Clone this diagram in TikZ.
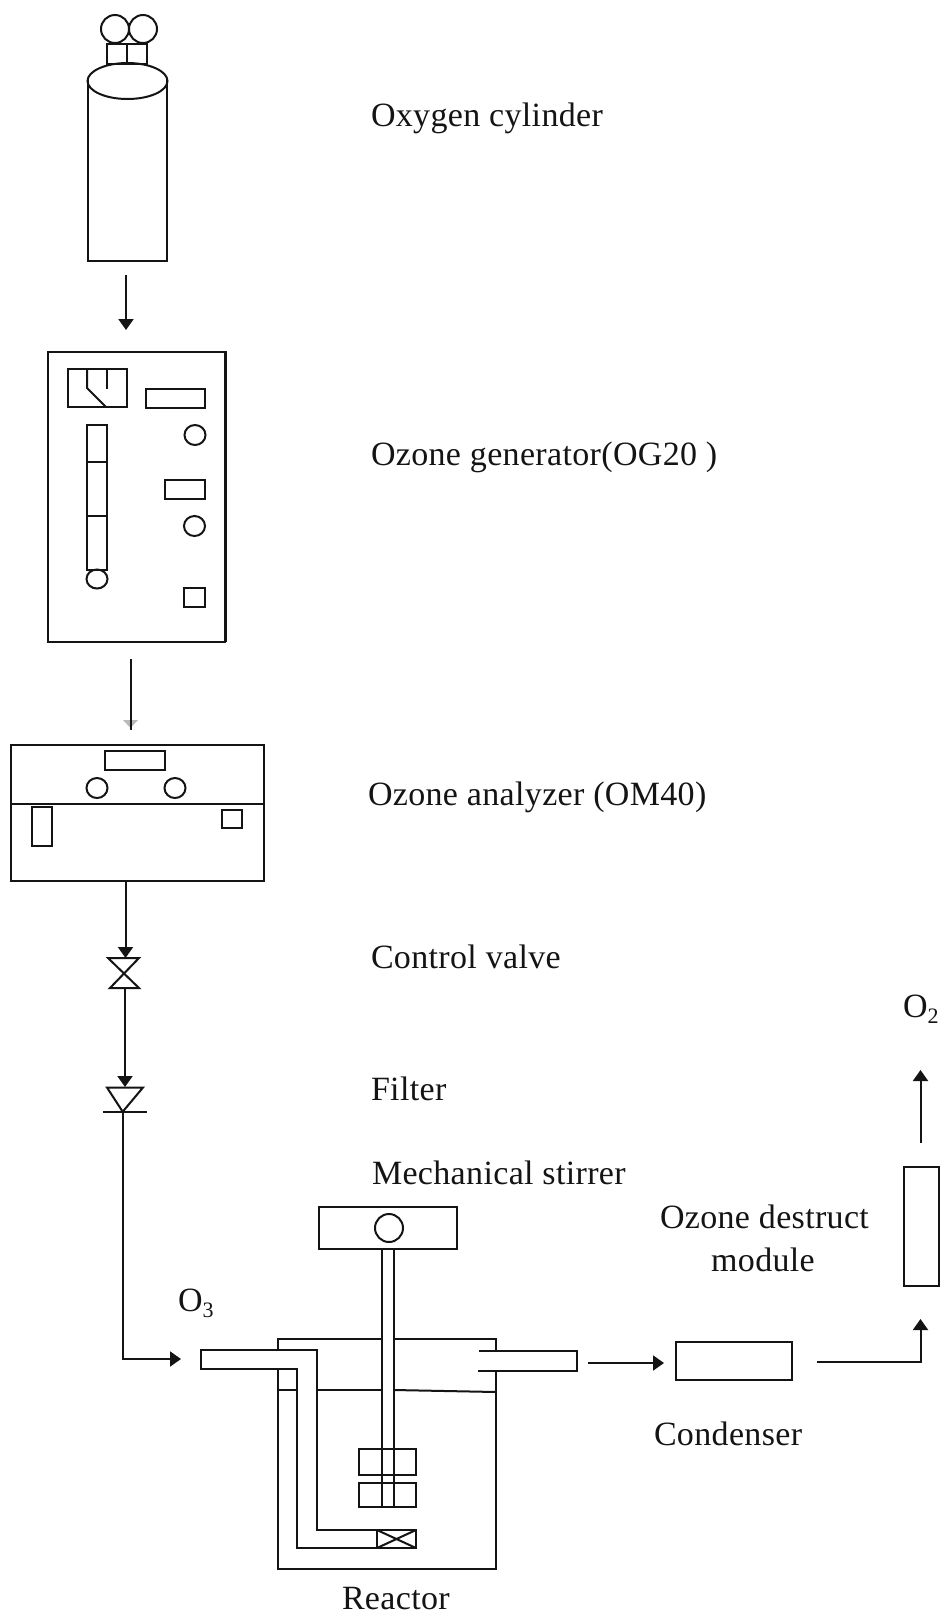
\documentclass[tikz,border=0pt]{standalone}
\usepackage{fontspec}
\setmainfont{Liberation Serif}[LetterSpace=1.0]
\usetikzlibrary{arrows.meta,shapes.geometric}
\definecolor{ink}{HTML}{141414}
\newcommand{\ibox}[5]{%
  \pgfmathsetmacro{\cxv}{(#2+#4)/2}\pgfmathsetmacro{\cyv}{(#3+#5)/2}%
  \pgfmathsetmacro{\wv}{#4-#2}\pgfmathsetmacro{\hv}{#5-#3}%
  \node[boxst,minimum width=\wv pt,minimum height=\hv pt] (#1) at (\cxv,\cyv) {};}
\newcommand{\iell}[5]{%
  \pgfmathsetmacro{\wv}{2*#4}\pgfmathsetmacro{\hv}{2*#5}%
  \node[ellst,minimum width=\wv pt,minimum height=\hv pt] (#1) at (#2,#3) {};}
\newcommand{\sub}[1]{\raisebox{-6pt}{\fontsize{22}{22}\selectfont #1}}
\tikzset{
  base/.style={line width=2pt,draw=ink},
  boxst/.style={base,rectangle,inner sep=0pt,outer sep=0pt},
  ellst/.style={base,ellipse,inner sep=0pt,outer sep=0pt},
  flow/.style={base,-{Triangle[length=11pt,width=15pt]}},
  pipe/.style={base,line cap=butt,line join=miter},
  lab/.style={anchor=base west,inner sep=0pt,outer sep=0pt,text=ink,font=\fontsize{34}{37}\selectfont},
}
\begin{document}
\begin{tikzpicture}[x=1pt,y=-1pt]
\useasboundingbox (0,0) rectangle (940,1615);
\fill[white] (0,0) rectangle (940,1615);

% --- oxygen cylinder
\iell{cap}{127.5}{81}{40}{18}
\draw[pipe] (88,80) -- (88,261) -- (167,261) -- (167,80);
\iell{gaugeA}{115}{29}{14}{14}
\iell{gaugeB}{143}{29}{14}{14}
\ibox{stemA}{107}{44}{127}{64}
\ibox{stemB}{127}{44}{147}{64}
\coordinate (cylout) at (126,275);
\coordinate (genin) at (126,330);
\draw[flow] (cylout) -- (genin);

% --- ozone generator
\ibox{gen}{48}{351.5}{225}{642}
\draw[line width=3pt,draw=ink] (225,351) -- (225,642);
\ibox{meter}{68}{369}{127}{407}
\draw[pipe] (107,369) -- (107,389);
\draw[pipe] (87,369) -- (87,388) -- (106,407);
\ibox{gdispA}{146}{389}{205}{408}
\iell{gknobA}{195}{435}{10.5}{10}
\ibox{gdispB}{165}{480}{205}{499}
\iell{gknobB}{194.5}{526}{10.5}{10}
\ibox{gsq}{184}{587.5}{205}{607}
\ibox{tubeA}{87}{425}{107}{462}
\ibox{tubeB}{87}{462}{107}{516}
\ibox{tubeC}{87}{516}{107}{570}
\iell{bulb}{97}{579}{10.5}{9.5}
\coordinate (genout) at (130.5,659);
\coordinate (anin) at (130.5,730);
\fill[gray!55] (123,720) -- (138,720) -- (130.5,728) -- cycle;
\draw[base] (genout) -- (anin);

% --- ozone analyzer
\ibox{an}{11}{745}{264}{881}
\draw[pipe] (11,803.5) -- (264,803.5);
\ibox{adisp}{105}{751}{165}{770}
\iell{aknobA}{97}{788}{10.5}{10}
\iell{aknobB}{175}{788}{10.5}{10}
\ibox{arect}{32}{807}{52}{846}
\ibox{asq}{222}{810}{242}{828}

% --- control valve
\coordinate (anout) at (125.5,881);
\coordinate (vtop) at (125.5,958);
\coordinate (vbot) at (125,988);
\coordinate (ftop) at (125,1087);
\coordinate (fbot) at (122.5,1112);
\coordinate (o3in) at (181,1359);
\draw[flow] (anout) -- (vtop);
\draw[pipe] (108,958) -- (139,958) -- (110,988) -- (139,988) -- cycle;
\draw[flow] (vbot) -- (ftop);

% --- filter
\draw[pipe] (107,1087.5) -- (143,1087.5) -- (122.7,1111.7) -- cycle;
\draw[pipe] (103,1111.7) -- (147,1111.7);
\draw[flow] (fbot) |- (o3in);

% --- reactor
\ibox{motor}{319}{1207}{457}{1249}
\iell{mknob}{389}{1228}{14}{14}
\draw[pipe] (382,1249) -- (382,1507);
\draw[pipe] (394,1249) -- (394,1507);
\draw[pipe] (278,1350) -- (278,1339) -- (382,1339);
\draw[pipe] (394,1339) -- (496,1339) -- (496,1351);
\draw[pipe] (278,1369) -- (278,1568.5) -- (496,1568.5) -- (496,1371);
\draw[pipe] (278,1390) -- (297,1390);
\draw[pipe] (317,1390) -- (382,1390);
\draw[pipe] (394,1390) -- (496,1392);
\draw[pipe] (297,1369) -- (201,1369) -- (201,1350) -- (317,1350) -- (317,1530) -- (416,1530) -- (416,1548) -- (297,1548) -- cycle;
\draw[pipe] (377,1530) -- (377,1548);
\draw[pipe] (377,1530) -- (416,1548);
\draw[pipe] (377,1548) -- (416,1530);
\ibox{impA}{359}{1449}{416}{1475}
\ibox{impB}{359}{1483}{416}{1507}
\draw[pipe] (479,1351) -- (577,1351) -- (577,1371) -- (478,1371);

% --- condenser and destruct module
\coordinate (rout) at (588,1363);
\ibox{cond}{676}{1342}{792}{1380}
\coordinate (condin) at (664,1363);
\draw[flow] (rout) -- (condin);
\coordinate (condout) at (817,1362);
\coordinate (modin) at (920.5,1319);
\draw[flow] (condout) -| (modin);
\ibox{mod}{904}{1167}{939}{1286}
\coordinate (modout) at (920.5,1143);
\coordinate (o2end) at (920.5,1070);
\draw[flow] (modout) -- (o2end);

% --- labels
\node[lab] (lcyl) at (371,126) {Oxygen cylinder};
\node[lab] (lgen) at (371,465) {Ozone generator(OG20 )};
\node[lab] (lan) at (368,805) {Ozone analyzer (OM40)};
\node[lab] (lval) at (371,968) {Control valve};
\node[lab] (lfil) at (371,1100) {Filter};
\node[lab] (lsti) at (372,1184) {Mechanical stirrer};
\node[lab] (ldes) at (660,1228) {Ozone destruct};
\node[lab,anchor=base] (lmod) at (763,1271) {module};
\node[lab] (lcon) at (654,1445) {Condenser};
\node[lab] (lrea) at (342,1609) {Reactor};
\node[lab] (lo3) at (178,1311) {O\sub{3}};
\node[lab] (lo2) at (903,1017) {O\sub{2}};
\end{tikzpicture}
\end{document}
